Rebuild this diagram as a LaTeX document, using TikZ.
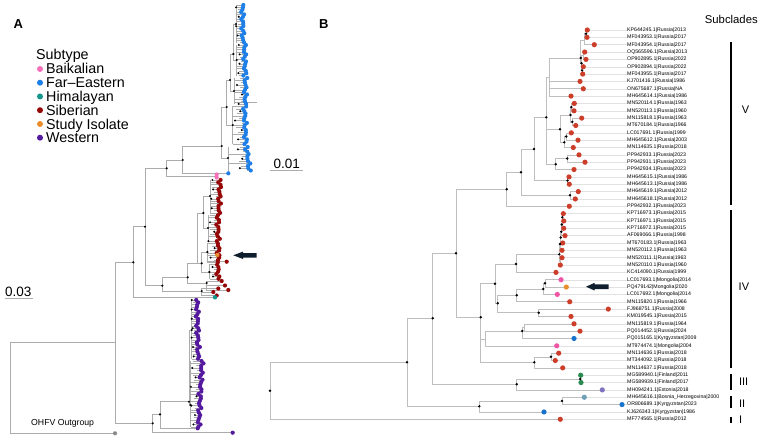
\documentclass[tikz,border=0pt]{standalone}
\usepackage{fontspec}
\setmainfont{Liberation Sans}
\definecolor{abrc}{RGB}{172,172,172}
\definecolor{bbrc}{RGB}{190,190,190}
\definecolor{leadc}{RGB}{226,226,226}
\definecolor{Afe}{RGB}{30,128,230}
\definecolor{Asib}{RGB}{150,8,8}
\definecolor{Abai}{RGB}{245,110,185}
\definecolor{Ahim}{RGB}{20,150,140}
\definecolor{Astu}{RGB}{232,140,45}
\definecolor{Awes}{RGB}{85,25,160}
\definecolor{Aog}{RGB}{140,140,140}
\definecolor{sib}{RGB}{205,62,42}
\definecolor{bai}{RGB}{238,85,165}
\definecolor{stu}{RGB}{232,142,42}
\definecolor{feb}{RGB}{25,115,205}
\definecolor{grn}{RGB}{40,140,80}
\definecolor{lav}{RGB}{125,115,190}
\definecolor{stb}{RGB}{112,158,185}
\definecolor{arrc}{RGB}{15,30,45}
\tikzset{
  abr/.style={draw=abrc, line width=0.45pt},
  bbr/.style={draw=bbrc, line width=0.55pt},
  lead/.style={draw=leadc, line width=0.4pt},
  blab/.style={anchor=west, inner sep=0pt, font=\fontsize{5.2}{6}\selectfont},
  legtxt/.style={anchor=base west, inner sep=0pt, font=\fontsize{14.3}{16}\selectfont},
  roman/.style={anchor=base west, inner sep=0pt, font=\fontsize{11}{13}\selectfont},
  panel/.style={anchor=base west, inner sep=0pt, font=\fontsize{13}{15}\selectfont\bfseries},
  barl/.style={draw=black, line width=1.1pt},
}
\newcommand\tipclus[7]{%
  \draw[abr] (#3,#1) -- (#3,{#1+#2*2.35});
  \foreach \k in {0,...,#2}{%
    \pgfmathsetmacro\yy{#1+\k*2.35}%
    \pgfmathsetmacro\xx{#4+#5*\k+1.2*sin(\k*97+#7*31)+0.7*sin(\k*211+#7*17)}%
    \pgfmathtruncatemacro\mm{mod(\k+#7,4)}%
    \ifnum\mm=0\relax
      \pgfmathsetmacro\xs{#3}%
    \else
      \pgfmathsetmacro\xs{max(#3,\xx-4-2.5*(1+sin(\k*131+#7*7)))}%
    \fi
    \draw[abr] (\xs,\yy) -- (\xx,\yy);
    \ifnum\mm=2\relax \fill[black] (\xs,\yy) circle (1.1);\fi
  }%
  \foreach \k in {0,...,#2}{%
    \pgfmathsetmacro\yy{#1+\k*2.35}%
    \pgfmathsetmacro\xx{#4+#5*\k+1.2*sin(\k*97+#7*31)+0.7*sin(\k*211+#7*17)}%
    \fill[#6] (\xx,\yy) circle (2.1);
  }%
}
\newcommand\alnk[2]{\foreach \cc in {#2}{\draw[abr] (#1) |- (\cc);}}
\newcommand\blnk[2]{\foreach \cc in {#2}{\draw[bbr] (#1) |- (\cc);}}
\def\tipdata{1/587.3/sib/KP644245.1|Russia|2013,2/587/sib/MF043953.1|Russia|2017,3/594.3/sib/MF043954.1|Russia|2017,4/584.7/sib/OQ565596.1|Russia|2013,5/586/sib/OP902895.1|Russia|2022,6/583.3/sib/OP902894.1|Russia|2022,7/582.7/sib/MF043955.1|Russia|2017,8/580/sib/KJ701416.1|Russia|1986,9/583.3/sib/ON675687.1|Russia|NA,10/571/sib/MH645614.1|Russia|1986,11/574.3/sib/MN520114.1|Russia|1963,12/574/sib/MN520113.1|Russia|1960,13/581.7/sib/MN115818.1|Russia|1963,14/575.7/sib/MT670184.1|Russia|1966,15/571.3/sib/LC017691.1|Russia|1999,16/578/sib/MH645612.1|Russia|2003,17/573.3/sib/MN114635.1|Russia|2018,18/579/sib/PP942933.1|Russia|2023,19/585/sib/PP942931.1|Russia|2023,20/574/sib/PP942934.1|Russia|2023,21/569/sib/MH645615.1|Russia|1986,22/569.3/sib/MH645613.1|Russia|1986,23/578.3/sib/MH645619.1|Russia|2012,24/575.3/sib/MH645618.1|Russia|2012,25/569.3/sib/PP942932.1|Russia|2023,26/563.3/sib/KP716973.1|Russia|2015,27/563.7/sib/KP716971.1|Russia|2015,28/563.7/sib/KP716972.1|Russia|2015,29/565/sib/AF069066.1|Russia|1998,30/562.7/sib/MT670183.1|Russia|1963,31/562/sib/MN520112.1|Russia|1963,32/562/sib/MN520111.1|Russia|1963,33/560.3/sib/MN520110.1|Russia|1960,34/556/sib/KC414090.1|Russia|1999,35/561/bai/LC017693.1|Mongolia|2014,36/566.3/stu/PQ479142|Mongolia|2020,37/557.3/bai/LC017692.1|Mongolia|2014,38/569.7/sib/MN115820.1|Russia|1966,39/608.3/sib/FJ968751.1|Russia|2008,40/571/sib/KM019545.1|Russia|2015,41/574/sib/MN115819.1|Russia|1964,42/580/sib/PQ014452.1|Russia|2024,43/574/feb/PQ015165.1|Kyrgyzstan|2009,44/556.7/bai/MT974474.1|Mongolia|2004,45/558.7/sib/MN114636.1|Russia|2018,46/555.3/sib/MT344092.1|Russia|2018,47/562.7/sib/MN114637.1|Russia|2018,48/580.7/grn/MG589940.1|Finland|2011,49/581/grn/MG589939.1|Finland|2017,50/602.3/lav/MH094241.1|Estonia|2018,51/584.3/stb/MH645616.1|Bosnia\_Herzegovina|2000,52/622/feb/OR806689.1|Kyrgyzstan|2023,53/544/feb/KJ626343.1|Kyrgyzstan|1986,54/560.3/sib/MF774565.1|Russia|2012}
\begin{document}
\begin{tikzpicture}[x=1pt,y=-1pt]
\useasboundingbox (0,0) rectangle (760,441);
\fill[white] (0,0) rectangle (760,441);

% ================= PANEL A =================
\node[panel] (lblA) at (13.3,28.3) {A};
\node[legtxt] (legT) at (36,59.5) {Subtype};
\foreach \n/\t/\c/\yb in {l1/Baikalian/Abai/74, l2/Far\textendash Eastern/Afe/87.7, l3/Himalayan/Ahim/101.5, l4/Siberian/Asib/115.2, l5/Study Isolate/Astu/129, l6/Western/Awes/142.7}{
  \fill[\c] (40,\yb-5) circle (3);
  \node[legtxt] (\n) at (46,\yb) {\t};
}
\node[anchor=base west, inner sep=0pt, font=\fontsize{13.5}{15}\selectfont] (sc03) at (5,296) {0.03};
\draw[draw=abrc, line width=0.5pt] (5,298.5) -- (33,298.5);
\node[anchor=base west, inner sep=0pt, font=\fontsize{13.5}{15}\selectfont] (sc01) at (273.3,168.3) {0.01};
\draw[draw=abrc, line width=0.5pt] (270,170.3) -- (303.3,170.3);
\node[anchor=base west, inner sep=0pt, font=\fontsize{8.7}{10}\selectfont] (ogl) at (31,425.7) {OHFV Outgroup};

\coordinate (aR) at (10,388);
\coordinate (aN1) at (115.3,342.7);
\coordinate (aOG) at (115,433.3);
\coordinate (aN2) at (133.3,262.3);
\coordinate (aNW) at (152.7,423.3);
\coordinate (aN3) at (145,226.7);
\coordinate (aHim) at (215,297.3);
\coordinate (aN4) at (166.7,168.3);
\coordinate (aNS) at (162.3,285.7);
\coordinate (aNFE) at (182.7,160);
\coordinate (aBai) at (216.7,176);
\coordinate (aFE1) at (221.7,146);
\coordinate (aBl) at (228.3,173.3);
\coordinate (aFE2) at (226.7,107);
\coordinate (aC5) at (228,158);
\coordinate (aFE3) at (230,80);
\coordinate (aC4) at (232.7,125);
\coordinate (aFE4) at (233.3,54);
\coordinate (aC3) at (234,91);
\coordinate (aC1) at (236,24);
\coordinate (aC2) at (236.7,60);
\coordinate (aNSa) at (187.7,277.3);
\coordinate (aNSb) at (201.7,291);
\coordinate (aNSc) at (197.7,263.3);
\coordinate (aNSd) at (206.7,283);
\coordinate (aSC1) at (203.3,213);
\coordinate (aSC2) at (201.7,263.3);
\coordinate (aS1) at (210,196);
\coordinate (aS2) at (208,228);
\coordinate (aS3) at (207.3,252);
\coordinate (aS4) at (209.3,272);
\coordinate (aT1) at (221.7,281);
\coordinate (aT2) at (225,285.5);
\coordinate (aT3) at (228.3,290);
\coordinate (aT4) at (218.3,288.5);
\coordinate (aT5) at (213.3,292);
\coordinate (aT6) at (216.7,295.5);
\coordinate (aNWa) at (160,414.3);
\coordinate (aPL) at (232.7,432.7);
\coordinate (aNWb) at (189,401.7);
\coordinate (aPT) at (197.7,428.3);
\coordinate (aW1) at (191.7,330);
\coordinate (aW2) at (190.5,405);
\coordinate (aStu) at (217.3,255);
\coordinate (aStuB) at (207.3,255);
\coordinate (aXr) at (226.7,261.7);
\coordinate (aXrB) at (207.3,261.7);
\coordinate (aLg1) at (234,102.3);
\coordinate (aLg2) at (256.5,102.3);

\alnk{aR}{aN1,aOG}
\alnk{aN1}{aN2,aNW}
\alnk{aN2}{aN3,aHim}
\alnk{aN3}{aN4,aNS}
\alnk{aN4}{aNFE,aBai}
\alnk{aNFE}{aFE1,aBl}
\alnk{aFE1}{aFE2,aC5}
\alnk{aFE2}{aFE3,aC4}
\alnk{aFE3}{aFE4,aC3}
\alnk{aFE4}{aC1,aC2}
\alnk{aNS}{aNSa,aNSb}
\alnk{aNSa}{aNSc,aNSd}
\alnk{aNSc}{aSC1,aSC2}
\alnk{aSC1}{aS1,aS2}
\alnk{aSC2}{aS3,aS4}
\alnk{aNSd}{aT1,aT2,aT3}
\alnk{aNSb}{aT4,aT5,aT6}
\alnk{aNW}{aNWa,aPL}
\alnk{aNWa}{aNWb,aPT}
\alnk{aNWb}{aW1,aW2}
\draw[abr] (aStuB) -- (aStu);
\draw[abr] (aXrB) -- (aXr);
\draw[abr] (aLg1) -- (aLg2);

% tip clusters: ya, n, combx, xbase, slope, color, phase
\tipclus{5}{16}{236}{242.5}{0.03}{Afe}{1}
\tipclus{45}{13}{236.7}{244.5}{0.05}{Afe}{2}
\tipclus{78}{11}{234}{245.5}{-0.02}{Afe}{3}
\tipclus{106.5}{16}{232.7}{244.5}{0.08}{Afe}{4}
\tipclus{147}{10}{228}{246.5}{0.3}{Afe}{5}
\tipclus{180}{14}{210}{220}{-0.08}{Asib}{6}
\tipclus{215.3}{11}{208}{218}{0}{Asib}{7}
\tipclus{243.5}{8}{207.3}{218.5}{0}{Asib}{8}
\tipclus{264.7}{6}{209.3}{218}{0}{Asib}{9}
\tipclus{300}{25}{191.7}{197}{0.05}{Awes}{10}
\tipclus{361}{28}{190.5}{202}{-0.12}{Awes}{11}

\foreach \p in {aT1,aT2,aT3,aT4,aT5,aT6,aXr}{\fill[Asib] (\p) circle (2.1);}
\fill[Astu] (aStu) circle (2.2);
\fill[Abai] (216.7,174.5) circle (2.1);
\fill[Abai] (216.7,177.5) circle (2.1);
\fill[Afe] (aBl) circle (2.1);
\fill[Ahim] (aHim) circle (2.2);
\fill[Awes] (aPL) circle (2.1);
\fill[Awes] (aPT) circle (2.1);
\fill[Aog] (aOG) circle (2.1);
\foreach \p in {aN2,aN3,aN4,aNFE,aFE1,aFE2,aFE3,aFE4,aC1,aC2,aC3,aC4,aC5,aNS,aNSa,aNSb,aSC1,aSC2,aS1,aS2,aS3,aS4,aNSd,aNW,aNWa,aNWb,aW1,aW2}{\fill[black] (\p) circle (1.2);}

\fill[arrc] (233.3,255.3) -- (243,251.6) -- (243,253.1) -- (256.5,253.1) -- (256.5,257.5) -- (243,257.5) -- (243,259) -- cycle;

% ================= PANEL B =================
\node[panel] (lblB) at (319,29) {B};
\node[anchor=base, inner sep=0pt, font=\fontsize{11.3}{13}\selectfont] (subcl) at (731.3,23.5) {Subclades};

\foreach \i/\x/\c/\lab in \tipdata{
  \pgfmathsetmacro\yy{30+(\i-1)*7.345}
  \coordinate (t\i) at (\x,\yy);
  \node[blab] (L\i) at (627,\yy) {\lab};
  \draw[lead] (t\i) -- (L\i.west);
}

\coordinate (bR) at (270,390.7);
\coordinate (bA) at (407,362.3);
\coordinate (bB) at (432.7,318.3);
\coordinate (bC) at (479.3,406.3);
\coordinate (bc2) at (562,400.9);
\coordinate (bD) at (456,253.3);
\coordinate (bW3) at (516.7,384.3);
\coordinate (bg) at (580.3,379);
\coordinate (bE) at (506.7,189.3);
\coordinate (bL) at (480.7,317.3);
\coordinate (bF) at (521,172.3);
\coordinate (bG) at (534,149);
\coordinate (bn2324) at (570,195.3);
\coordinate (bH) at (546.3,117.3);
\coordinate (bn2122) at (567.5,180.6);
\coordinate (bP) at (549,77);
\coordinate (bK) at (546.7,147);
\coordinate (bQ) at (580.7,58);
\coordinate (bn123) at (584.5,40);
\coordinate (bn12) at (586,33.7);
\coordinate (bnB) at (581.5,63.3);
\coordinate (bn45) at (583.5,55.7);
\coordinate (bn67) at (582,70.4);
\coordinate (bI) at (560,129.3);
\coordinate (bI1) at (570.5,115);
\coordinate (bI1a) at (571.3,107.1);
\coordinate (bI1b) at (572.3,121.8);
\coordinate (bI2) at (564.3,142.3);
\coordinate (bI2a) at (566.3,136.5);
\coordinate (bJ) at (555.7,164.3);
\coordinate (bJa) at (567.3,158.5);
\coordinate (bM) at (495,283.7);
\coordinate (bn516) at (516,264);
\coordinate (ba6) at (559.3,254.3);
\coordinate (ba5) at (560,244);
\coordinate (ba4) at (560.7,237.5);
\coordinate (ba3) at (561.3,231.7);
\coordinate (ba2) at (561.8,224.5);
\coordinate (ba1) at (562.3,217.3);
\coordinate (bnb) at (560.3,261.4);
\coordinate (bM2) at (497.7,303.3);
\coordinate (bm3) at (516.7,295.3);
\coordinate (bm2) at (543.3,289);
\coordinate (bm1) at (545,283.3);
\coordinate (bm4) at (538.7,312.7);
\coordinate (bT) at (485.3,339);
\coordinate (bT2) at (522.3,331);
\coordinate (bs41) at (524.3,327.5);
\coordinate (bU) at (534.3,362.3);
\coordinate (bu1) at (551,356.8);

\blnk{bR}{bA,t54}
\blnk{bA}{bB,bC}
\blnk{bC}{bc2,t53}
\blnk{bc2}{t51,t52}
\blnk{bB}{bD,bW3}
\blnk{bW3}{bg,t50}
\blnk{bg}{t48,t49}
\blnk{bD}{bE,bL}
\blnk{bE}{bF,t25}
\blnk{bF}{bG,bn2324}
\blnk{bn2324}{t23,t24}
\blnk{bG}{bH,bn2122}
\blnk{bn2122}{t21,t22}
\blnk{bH}{bP,bK}
\blnk{bP}{bQ,t8,t9,t10}
\blnk{bQ}{bn123,bnB}
\blnk{bn123}{bn12,t3}
\blnk{bn12}{t1,t2}
\blnk{bnB}{bn45,bn67}
\blnk{bn45}{t4,t5}
\blnk{bn67}{t6,t7}
\blnk{bK}{bI,bJ}
\blnk{bI}{bI1,bI2}
\blnk{bI1}{bI1a,bI1b}
\blnk{bI1a}{t11,t12}
\blnk{bI1b}{t13,t14}
\blnk{bI2}{bI2a,t17}
\blnk{bI2a}{t15,t16}
\blnk{bJ}{bJa,t20}
\blnk{bJa}{t18,t19}
\blnk{bL}{bM,bT,bU}
\blnk{bM}{bn516,bM2}
\blnk{bn516}{ba6,t34}
\blnk{ba6}{ba5,bnb}
\blnk{bnb}{t32,t33}
\blnk{ba5}{ba4,t31}
\blnk{ba4}{ba3,t30}
\blnk{ba3}{ba2,t29}
\blnk{ba2}{ba1,t28}
\blnk{ba1}{t26,t27}
\blnk{bM2}{bm3,bm4}
\blnk{bm3}{bm2,t38}
\blnk{bm2}{bm1,t37}
\blnk{bm1}{t35,t36}
\blnk{bm4}{t39,t40}
\blnk{bT}{bT2,t44}
\blnk{bT2}{bs41,t43}
\blnk{bs41}{t41,t42}
\blnk{bU}{bu1,t47}
\blnk{bu1}{t45,t46}

\foreach \i/\x/\c/\lab in \tipdata{\fill[\c] (t\i) circle (2.6);}
\foreach \p in {bR,bA,bB,bC,bc2,bD,bW3,bg,bE,bL,bF,bG,bn2324,bH,bn2122,bQ,bn12,bnB,bn67,bI,bI1,bI1a,bI1b,bI2,bI2a,bJ,bJa,bM,bn516,ba6,ba5,ba4,ba3,ba2,ba1,bM2,bm3,bm2,bm1,bm4,bT2,bU,bu1}{\fill[black] (\p) circle (1.35);}

\fill[arrc] (586,286.7) -- (594.5,282.9) -- (594.5,284.4) -- (608.5,284.4) -- (608.5,289) -- (594.5,289) -- (594.5,290.5) -- cycle;

% subclade bars
\draw[barl] (731,42) -- (731,205);
\draw[barl] (731,210) -- (731,368);
\draw[barl] (731,374) -- (731,390);
\draw[barl] (731,396) -- (731,408);
\draw[barl] (731,417) -- (731,423);
\node[roman] (rV) at (741.7,113.3) {V};
\node[roman] (rIV) at (738.5,290.7) {IV};
\node[roman] (rIII) at (738.8,385.3) {III};
\node[roman] (rII) at (738.8,407) {II};
\node[roman] (rI) at (738.8,423.3) {I};
\end{tikzpicture}
\end{document}
